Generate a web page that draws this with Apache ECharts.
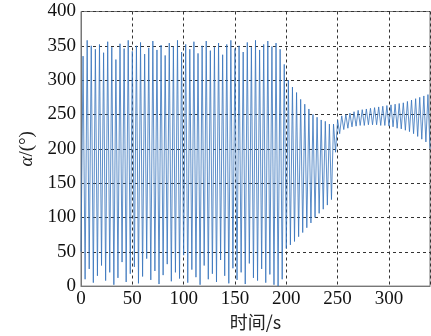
<!DOCTYPE html>
<html>
<head>
<meta charset="utf-8">
<script src="https://cdn.jsdelivr.net/npm/echarts@6/dist/echarts.min.js"></script>
<style>
html,body{margin:0;padding:0;background:#fff;}
#chart{width:431px;height:336px;}
</style>
</head>
<body>
<div id="chart"></div>
<script>
// sample spacing of the read-off turning points (s)
const sampleStep = 2;
// phase 1: t = 0 .. 198 s, full-range oscillation
const alphaPhase1 = [50,335,10,358,25,350,5,345,15,352,30,340,8,356,20,348,2,330,12,353,
  35,346,6,358,18,342,28,350,4,355,14,338,40,347,9,357,22,344,3,351,
  16,336,32,354,7,349,20,358,11,341,45,352,5,345,24,356,13,339,2,350,
  30,357,10,343,18,348,6,354,38,337,15,352,4,358,26,346,9,350,20,341,
  3,355,33,348,12,358,8,344,25,352,5,357,17,349,2,354,0,345,10,323];
// phase 2: t = 200 .. 244 s, converging envelope
const alphaPhase2 = [55,300,60,290,65,282,72,272,78,265,85,258,92,250,100,246,106,242,112,240,118,236,126];
// phase 3: t = 246 .. 340 s, narrow band
const alphaPhase3 = [236,195,242,222,248,228,250,230,252,232,254,233,256,234,257,234,258,235,259,235,
  260,235,261,234,262,234,263,233,264,232,265,230,266,229,267,227,269,225,271,222,
  273,218,275,214,277,210,279,200];
const xTicks = [0,50,100,150,200,250,300];
const yTicks = [0,50,100,150,200,250,300,350,400];

const alpha = alphaPhase1.concat(alphaPhase2, alphaPhase3);
const seriesData = alpha.map((v, i) => [i * sampleStep, v]);

const serif = '"Liberation Serif","Times New Roman",serif';
const chart = echarts.init(document.getElementById('chart'), null, {renderer: 'canvas'});
chart.setOption({
  animation: false,
  backgroundColor: '#fff',
  grid: {left: 81, right: 1, top: 11.5, bottom: 47, show: true, borderColor: '#777', borderWidth: 1, backgroundColor: 'transparent'},
  xAxis: {
    type: 'value', min: 0, max: 340, interval: 50,
    name: '时间/s', nameLocation: 'middle', nameGap: 23,
    nameTextStyle: {fontFamily: '"Noto Sans CJK SC",sans-serif', fontSize: 18, color: '#222'},
    axisLine: {show: true, lineStyle: {color: '#777', width: 1}},
    axisTick: {show: false},
    axisLabel: {
      fontFamily: serif, fontSize: 19, color: '#111', margin: 3, showMaxLabel: false,
      formatter: v => (xTicks.indexOf(v) >= 0 ? String(v) : '')
    },
    splitLine: {show: true, lineStyle: {color: '#333', type: [3, 3], width: 1}}
  },
  yAxis: {
    type: 'value', min: 0, max: 400, interval: 50,
    name: '{a|α}/(°)', nameLocation: 'middle', nameGap: 42, nameRotate: 90,
    nameTextStyle: {fontFamily: serif, fontSize: 19, color: '#222',
      rich: {a: {fontFamily: serif, fontStyle: 'italic', fontSize: 19, color: '#222'}}},
    axisLine: {show: true, lineStyle: {color: '#777', width: 1}},
    axisTick: {show: false},
    axisLabel: {
      fontFamily: serif, fontSize: 19, color: '#111', margin: 5,
      formatter: v => (yTicks.indexOf(v) >= 0 ? String(v) : '')
    },
    splitLine: {show: true, lineStyle: {color: '#333', type: [3, 3], width: 1}}
  },
  series: [{
    type: 'line', data: seriesData, showSymbol: false, symbol: 'none',
    lineStyle: {color: '#3572bb', width: 0.8}, sampling: null, clip: true
  }]
});
</script>
</body>
</html>
